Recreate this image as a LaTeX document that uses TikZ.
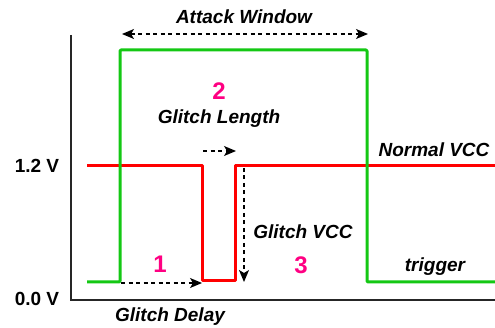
\documentclass[tikz,border=0pt]{standalone}
\usepackage{fontspec}
\setmainfont{Liberation Sans}
\usetikzlibrary{arrows.meta}
\definecolor{sigred}{RGB}{255,0,0}
\definecolor{siggreen}{RGB}{20,200,20}
\definecolor{numpink}{RGB}{255,0,130}
\tikzset{
  lbl/.style={anchor=base, inner sep=0pt, font=\fontsize{19}{22}\selectfont\bfseries\itshape},
  num/.style={anchor=base, inner sep=0pt, text=numpink, font=\fontsize{24}{28}\selectfont\bfseries},
  vlbl/.style={anchor=base, inner sep=0pt, font=\fontsize{19}{22}\selectfont\bfseries},
  tip/.style={Stealth[length=12pt,width=10pt,inset=3pt]},
  dimarrow/.style={line width=1.3pt, dash pattern=on 4pt off 3.5pt, -{Stealth[length=12pt,width=10pt,inset=3pt]}},
  sig/.style={line width=3pt, line join=round}
}
\begin{document}
\begin{tikzpicture}[x=1pt,y=-1pt]
\useasboundingbox (0,0) rectangle (495,328);
% axes
\draw[line width=2pt, black!85] (71,35) -- (71,300) -- (495,300);
% signals
\draw[sig, sigred] (87,166) -- (202,166) -- (202,281) -- (235,281) -- (235,166) -- (495,166);
\draw[sig, siggreen, rounded corners=1pt] (87,282) -- (120,282) -- (120,50) -- (367,50) -- (367,282) -- (495,282);
% coordinates for arrows
\coordinate (awL) at (122,34);
\coordinate (awR) at (368,34);
\coordinate (glS) at (203,151);
\coordinate (glE) at (236,151);
\coordinate (gdS) at (121,283);
\coordinate (gdE) at (202,283);
\coordinate (gvS) at (244,168);
\coordinate (gvE) at (244,282);
\draw[dimarrow, {Stealth[length=12pt,width=10pt,inset=3pt]}-{Stealth[length=12pt,width=10pt,inset=3pt]}] (awL) -- (awR);
\draw[dimarrow] (glS) -- (glE);
\draw[dimarrow] (gdS) -- (gdE);
\draw[dimarrow] (gvS) -- (gvE);
% labels
\node[lbl] (aw) at (244,24) {Attack Window};
\node[num] (n2) at (219,100) {2};
\node[lbl] (gl) at (219,124) {Glitch Length};
\node[lbl] (nv) at (434,157) {Normal VCC};
\node[vlbl] (v12) at (37,173) {1.2 V};
\node[vlbl] (v00) at (37,306) {0.0 V};
\node[lbl] (gv) at (303,239) {Glitch VCC};
\node[num] (n1) at (160,273) {1};
\node[num] (n3) at (301,274) {3};
\node[lbl] (tr) at (435,272) {trigger};
\node[lbl] (gd) at (170,322) {Glitch Delay};
\end{tikzpicture}
\end{document}
